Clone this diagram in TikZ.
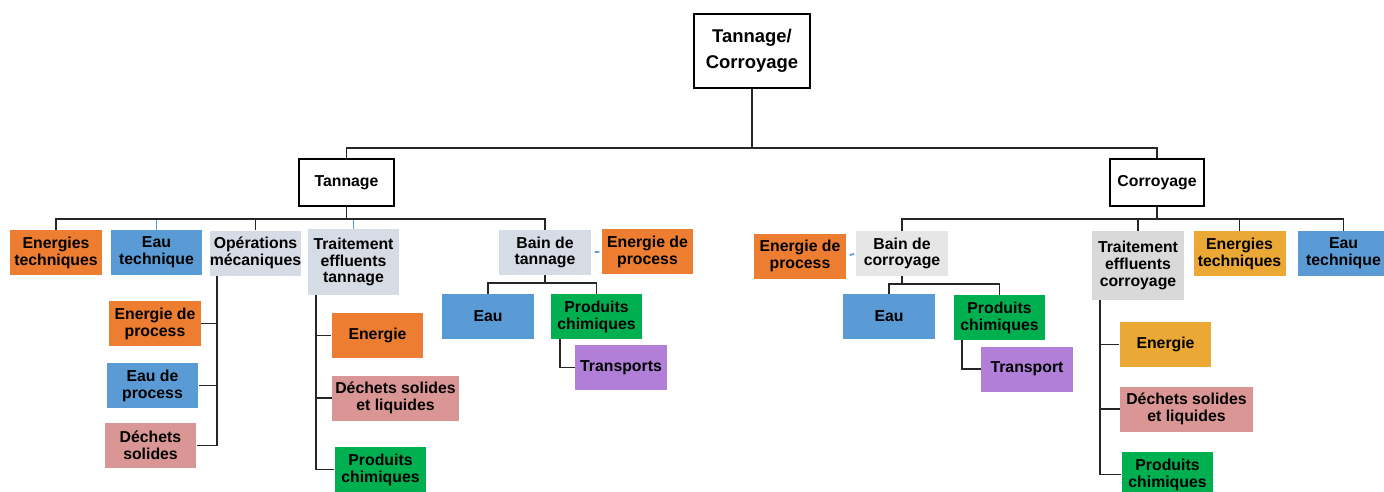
\documentclass[tikz,border=0pt]{standalone}
\usepackage{fontspec}
\setmainfont{Liberation Sans}
\usepackage{xcolor}
\usetikzlibrary{arrows.meta, positioning}

\definecolor{orng}{RGB}{237,125,49}
\definecolor{blu}{RGB}{91,155,213}
\definecolor{slate}{RGB}{214,220,229}
\definecolor{grn}{RGB}{0,176,80}
\definecolor{purp}{RGB}{177,127,215}
\definecolor{pink}{RGB}{218,150,148}
\definecolor{gold}{RGB}{235,168,52}
\definecolor{lgrey}{RGB}{231,230,230}
\definecolor{mgrey}{RGB}{217,217,217}

\begin{document}
\begin{tikzpicture}[
    x=0.02cm, y=-0.02cm,
    box/.style={minimum width=1.84cm, minimum height=0.9cm, inner sep=0pt, align=center, font=\fontsize{9}{9.6}\selectfont\bfseries},
    head/.style={draw=black, line width=1pt, fill=white, inner sep=0pt, align=center, font=\fontsize{9}{10}\selectfont\bfseries},
    conn/.style={draw=black!85, line width=1pt},
    bconn/.style={draw=blu, line width=1pt}
]
\clip (0,0) rectangle (1384,491);

% Top level
\node[head, minimum width=2.32cm, minimum height=1.48cm, font=\fontsize{10.5}{15}\selectfont\bfseries] (root) at (752,51) {Tannage/\\Corroyage};
\node[head, minimum width=1.9cm, minimum height=0.94cm] (tan) at (346.5,182.5) {Tannage};
\node[head, minimum width=1.88cm, minimum height=0.94cm] (cor) at (1157,182.5) {Corroyage};

% Tannage branch
\node[box, fill=orng] (enT) at (56,252.5) {Energies\\techniques};
\node[box, fill=blu] (eauT) at (156.5,252.5) {Eau\\technique};
\node[box, fill=slate] (opT) at (255.5,253) {Opérations\\mécaniques};
\node[box, fill=slate, minimum height=1.32cm] (tetT) at (353.5,262) {Traitement\\effluents\\tannage};
\node[box, fill=slate] (bainT) at (545,252.5) {Bain de\\tannage};
\node[box, fill=orng] (epT) at (647.5,251.5) {Energie de\\process};

% Bain de tannage
\node[box, fill=blu] (eauB) at (488,316.5) {Eau};
\node[box, fill=grn] (prodB) at (596.5,316.5) {Produits\\chimiques};
\node[box, fill=purp] (trB) at (621,367.5) {Transports};

% Operations mecaniques
\node[box, fill=orng] (enpO) at (155,323.5) {Energie de\\process};
\node[box, fill=blu] (eaupO) at (152.5,385.5) {Eau de\\process};
\node[box, fill=pink] (decO) at (150.5,445.5) {Déchets\\solides};

% Traitement effluents tannage
\node[box, fill=orng] (enE) at (377.5,335.5) {Energie};
\node[box, fill=pink, minimum width=2.54cm] (decE) at (395.5,398) {Déchets solides\\et liquides};
\node[box, fill=grn] (prodE) at (380.5,469.5) {Produits\\chimiques};

% Corroyage branch
\node[box, fill=lgrey] (bainC) at (902,253.5) {Bain de\\corroyage};
\node[box, fill=orng] (epC) at (800,256) {Energie de\\process};
\node[box, fill=mgrey, minimum height=1.38cm] (tetC) at (1138,265.5) {Traitement\\effluents\\corroyage};
\node[box, fill=gold] (enC) at (1239.5,253.5) {Energies\\techniques};
\node[box, fill=blu] (eauC) at (1343.5,253.5) {Eau\\technique};

% Bain de corroyage
\node[box, fill=blu] (eauBC) at (889,316.5) {Eau};
\node[box, fill=grn] (prodBC) at (999.5,317.5) {Produits\\chimiques};
\node[box, fill=purp] (trBC) at (1027,369) {Transport};

% Traitement effluents corroyage
\node[box, fill=gold] (enEC) at (1165.5,344.5) {Energie};
\node[box, fill=pink, minimum width=2.66cm] (decEC) at (1186.5,409) {Déchets solides\\et liquides};
\node[box, fill=grn] (prodEC) at (1167.5,474.5) {Produits\\chimiques};

% Bus points
\coordinate (rbus) at (752,148);
\coordinate (tbus) at (346.5,219);
\coordinate (cbus) at (1157,219);
\coordinate (bbus) at (545,283);
\coordinate (bcbus) at (902,284);
\coordinate (opl) at (217,276);
\coordinate (tel) at (316,295);
\coordinate (tcl) at (1100,300);

% Root arrows
\draw[conn] (root) -- (rbus);
\draw[conn] (rbus) -| (tan);
\draw[conn] (rbus) -| (cor);

% Tannage arrows
\draw[bconn] (tbus) -| (eauT);
\draw[bconn] (tbus) -| (tetT);
\draw[conn] (tan) -- (tbus);
\draw[conn] (enT) |- (tbus) -| (bainT);
\draw[conn] (tbus) -| (opT);
\draw[bconn, shorten <=2pt, shorten >=1pt] (bainT.east) -- (epT.west);

% Bain de tannage arrows
\draw[conn] (bainT) -- (bbus);
\draw[conn] (eauB) |- (bbus) -| (prodB);
\draw[conn] (prodB.south west) ++(10,0) |- (trB);

% Operations arrows
\draw[conn] (opl) |- (decO);
\draw[conn] (enpO) -- (enpO -| opl);
\draw[conn] (eaupO) -- (eaupO -| opl);

% Traitement tannage arrows
\draw[conn] (tel) |- (prodE);
\draw[conn] (enE) -- (enE -| tel);
\draw[conn] (decE) -- (decE -| tel);

% Corroyage arrows
\draw[conn] (cor) -- (cbus);
\draw[conn] (bainC) |- (cbus) -| (eauC);
\draw[conn] (cbus) -| (tetC);
\draw[conn] (cbus) -| (enC);
\draw[bconn, shorten <=2pt, shorten >=1pt] (epC.east) -- (bainC.west);

% Bain de corroyage arrows
\draw[conn] (bainC) -- (bcbus);
\draw[conn] (eauBC) |- (bcbus) -| (prodBC);
\draw[conn] (prodBC.south west) ++(9,0) |- (trBC);

% Traitement corroyage arrows
\draw[conn] (tcl) |- (prodEC);
\draw[conn] (enEC) -- (enEC -| tcl);
\draw[conn] (decEC) -- (decEC -| tcl);

\end{tikzpicture}
\end{document}
